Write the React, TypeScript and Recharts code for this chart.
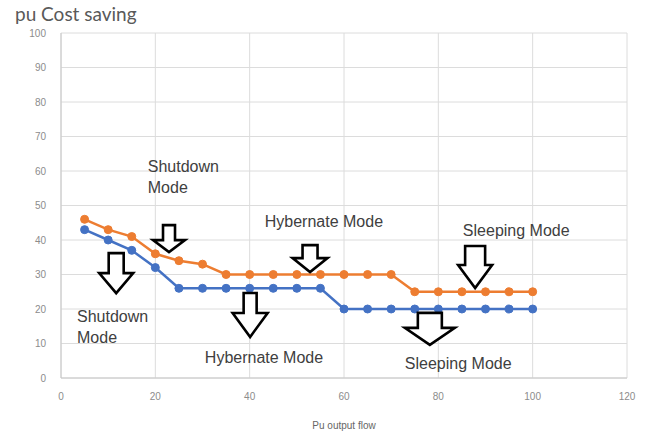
import React from 'react';
import {
  LineChart,
  Line,
  XAxis,
  YAxis,
  CartesianGrid,
  ReferenceDot,
  Label
} from 'recharts';

if (typeof document !== 'undefined') {
  document.body.style.margin = '0';
}

// pump output flow (x) and per-unit cost saving for the two operating strategies
const flow = [5, 10, 15, 20, 25, 30, 35, 40, 45, 50, 55, 60, 65, 70, 75, 80, 85, 90, 95, 100];
const upperSaving = [46, 43, 41, 36, 34, 33, 30, 30, 30, 30, 30, 30, 30, 30, 25, 25, 25, 25, 25, 25];
const lowerSaving = [43, 40, 37, 32, 26, 26, 26, 26, 26, 26, 26, 20, 20, 20, 20, 20, 20, 20, 20, 20];

const xTicks = [0, 20, 40, 60, 80, 100, 120];
const yTicks = [0, 10, 20, 30, 40, 50, 60, 70, 80, 90, 100];

const data = flow.map((f, i) => ({ flow: f, upper: upperSaving[i], lower:lowerSaving[i] }));

// mode callouts, placed in chart units (x = flow, y = saving)
const modeLabels = [
  { x: 18.4, y: 59.7, lines: ['Shutdown', 'Mode'] },
  { x: 3.4, y: 16.2, lines: ['Shutdown', 'Mode'] },
  { x: 43.2, y: 43.8, lines: ['Hybernate Mode'] },
  { x: 30.5, y: 4.3, lines: ['Hybernate Mode'] },
  { x: 85.2, y: 41.2, lines: ['Sleeping Mode'] },
  { x: 72.9, y: 2.6, lines: ['Sleeping Mode'] }
];

// hollow down arrows, anchored at the tip
const arrows = [
  { x: 22.9, y: 36.5, len: 27, headLen: 12, headW: 32, stemW: 12 },
  { x: 11.7, y: 24.6, len: 40, headLen: 20, headW: 34, stemW: 15 },
  { x: 52.8, y: 30.7, len: 27, headLen: 14, headW: 35, stemW: 15 },
  { x: 40.1, y: 11.9, len: 44, headLen: 24, headW: 35, stemW: 13 },
  { x: 87.8, y: 26.1, len: 42, headLen: 23, headW: 34, stemW: 20 },
  { x: 78.2, y: 9.6, len: 32, headLen: 17, headW: 50, stemW: 24 }
];

const ORANGE = '#ED7D31';
const BLUE = '#4472C4';

const ArrowShape = (a: typeof arrows[number]) => (props: any) => {
  const { cx, cy } = props;
  const top = cy - a.len;
  const base = cy - a.headLen;
  const s = a.stemW / 2;
  const h = a.headW / 2;
  const d = `M${cx - s},${top} L${cx + s},${top} L${cx + s},${base} L${cx + h},${base} L${cx},${cy} L${cx - h},${base} L${cx - s},${base} Z`;
  return <path d={d} fill="#ffffff" stroke="#000000" strokeWidth={2.6} strokeLinejoin="miter" />;
};

const TextShape = (lines: string[]) => (props: any) => {
  const { cx, cy } = props;
  return (
    <text x={cx} y={cy} fill="#404040" fontSize={16} fontFamily="'Liberation Sans', Arial, sans-serif">
      {lines.map((l, i) => (
        <tspan key={i} x={cx} dy={i === 0 ? 0 : 20.5}>{l}</tspan>
      ))}
    </text>
  );
};

export default function App() {
  return (
    <div style={{ position: 'relative', width: 648, height: 441, background: '#ffffff' }}>
      <div
        style={{
          position: 'absolute',
          left: 15,
          top: 2,
          fontFamily: 'Lato, sans-serif',
          fontSize: 19,
          color: '#595959',
          whiteSpace: 'nowrap'
        }}
      >
        pu Cost saving
      </div>
      <LineChart
        width={648}
        height={441}
        data={data}
        margin={{ top: 33, right: 21, bottom: 0, left: 0 }}
      >
        <CartesianGrid stroke="#dcdcdc" strokeWidth={1} />
        <XAxis
          dataKey="flow"
          type="number"
          domain={[0, 120]}
          ticks={xTicks}
          height={63}
          tickLine={false}
          axisLine={{ stroke: '#c8c8c8' }}
          tickMargin={9}
          tick={{ fill: '#8c8c8c', fontSize: 10, fontFamily: "'Liberation Sans', Arial, sans-serif" }}
        >
          <Label
            value="Pu output flow"
            position="insideBottom"
            offset={12}
            style={{ fill: '#666666', fontSize: 10, fontFamily: "'Liberation Sans', Arial, sans-serif" }}
          />
        </XAxis>
        <YAxis
          type="number"
          domain={[0, 100]}
          ticks={yTicks}
          width={61}
          tickLine={false}
          axisLine={{ stroke: '#c8c8c8' }}
          tickMargin={9}
          tick={{ fill: '#8c8c8c', fontSize: 10, fontFamily: "'Liberation Sans', Arial, sans-serif" }}
        />
        <Line
          dataKey="upper"
          stroke={ORANGE}
          strokeWidth={2.5}
          dot={{ r: 4, fill: ORANGE, stroke: ORANGE, strokeWidth: 1 }}
          isAnimationActive={false}
        />
        <Line
          dataKey="lower"
          stroke={BLUE}
          strokeWidth={2.5}
          dot={{ r: 4, fill: BLUE, stroke: BLUE, strokeWidth: 1 }}
          isAnimationActive={false}
        />
        {arrows.map((a, i) => (
          <ReferenceDot key={`a${i}`} x={a.x} y={a.y} r={1} ifOverflow="visible" shape={ArrowShape(a)} />
        ))}
        {modeLabels.map((m, i) => (
          <ReferenceDot key={`t${i}`} x={m.x} y={m.y} r={1} ifOverflow="visible" shape={TextShape(m.lines)} />
        ))}
      </LineChart>
    </div>
  );
}
